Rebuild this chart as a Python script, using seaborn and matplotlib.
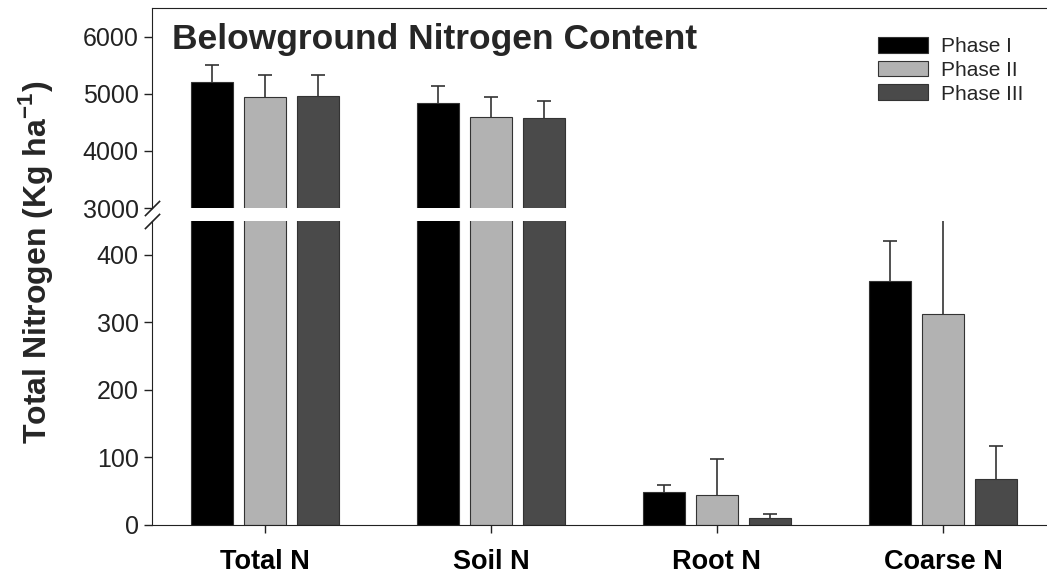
import numpy as np
import pandas as pd
import matplotlib
matplotlib.use('Agg')
import matplotlib.pyplot as plt
import seaborn as sns

# Data
categories = ['Total N', 'Soil N', 'Root N', 'Coarse N']
phases = ['Phase I', 'Phase II', 'Phase III']
phase1 = [5210, 4840, 49, 361]
phase2 = [4950, 4600, 44, 312]
phase3 = [4960, 4580, 10, 68]
err1 = [300, 300, 10, 59]
err2 = [380, 350, 53, 260]
err3 = [360, 300, 7, 49]

colors = ['#000000', '#b2b2b2', '#4a4a4a']

rows = []
for ph, vals, errs in zip(phases, [phase1, phase2, phase3], [err1, err2, err3]):
    for cat, v, e in zip(categories, vals, errs):
        rows.append({'category': cat, 'phase': ph, 'value': v, 'err': e})
df = pd.DataFrame(rows)

sns.set_style('white')
plt.rcParams['font.family'] = ['Liberation Sans', 'DejaVu Sans']
plt.rcParams['mathtext.fontset'] = 'custom'
plt.rcParams['mathtext.rm'] = 'Liberation Sans'
plt.rcParams['mathtext.bf'] = 'Liberation Sans:bold'

fig = plt.figure(figsize=(10.47, 5.78), dpi=100)
left = 152 / 1047
width = (1056 - 152) / 1047
ax_top = fig.add_axes([left, 1 - 208 / 578, width, 200 / 578])
ax_bot = fig.add_axes([left, 1 - 525 / 578, width, (525 - 221) / 578])

for ax in (ax_top, ax_bot):
    sns.barplot(data=df, x='category', y='value', hue='phase', palette=colors,
                width=0.7, gap=0.2, edgecolor='#333333', linewidth=0.8,
                errorbar=None, legend=(ax is ax_top), ax=ax)
    # one-sided (upper) error bars on each bar
    for container, ph in zip(ax.containers, phases):
        sub = df[df['phase'] == ph]
        xs = [p.get_x() + p.get_width() / 2 for p in container.patches]
        eb = ax.errorbar(xs, sub['value'], yerr=[np.zeros(len(sub)), sub['err']],
                         fmt='none', ecolor='#333333', elinewidth=1.2, capsize=5, capthick=1.2)
        eb[1][0].set_visible(False)  # hide the lower cap sitting on the bar top
    ax.set_xlim(-0.5, 3.5)
    ax.set_xlabel('')
    ax.set_ylabel('')
    ax.tick_params(axis='y', direction='out', length=6, width=1, labelsize=18, left=True, colors='#222222')
    ax.spines['left'].set_color('#222222')
    ax.spines['right'].set_visible(False)

ax_top.set_ylim(3000, 6500)
ax_top.set_yticks([3000, 4000, 5000, 6000])
ax_top.spines['bottom'].set_visible(False)
ax_top.spines['top'].set_color('#222222')
ax_top.tick_params(axis='x', bottom=False, labelbottom=False)

ax_bot.set_ylim(0, 450)
ax_bot.set_yticks([0, 100, 200, 300, 400])
ax_bot.spines['top'].set_visible(False)
ax_bot.spines['bottom'].set_color('#222222')
ax_bot.tick_params(axis='x', direction='out', length=6, width=1, bottom=True, pad=11, colors='#222222')
for lab in ax_bot.get_xticklabels():
    lab.set_fontsize(19.5)
    lab.set_fontweight('bold')
    lab.set_color('black')

# break marks on the left spine
kw = dict(marker=[(-1, -1), (1, 1)], markersize=11, linestyle='none',
          color='#222222', mec='#222222', mew=1.2, clip_on=False)
ax_top.plot([0], [0], transform=ax_top.transAxes, **kw)
ax_bot.plot([0], [1], transform=ax_bot.transAxes, **kw)

ax_top.text(0.022, 0.84, 'Belowground Nitrogen Content', transform=ax_top.transAxes,
            fontsize=25.5, fontweight='bold', va='center', ha='left')

leg = ax_top.legend(loc='upper right', bbox_to_anchor=(0.985, 0.95), frameon=False,
                    fontsize=15, handlelength=2.4, handleheight=0.8,
                    labelspacing=0.22, handletextpad=0.65)

fig.text(0.034, 1 - 262 / 578, r'Total Nitrogen (Kg ha$^{\mathbf{-1}}$)', rotation=90,
         fontsize=23, fontweight='bold', ha='center', va='center')

fig.savefig('out.png', dpi=100)
